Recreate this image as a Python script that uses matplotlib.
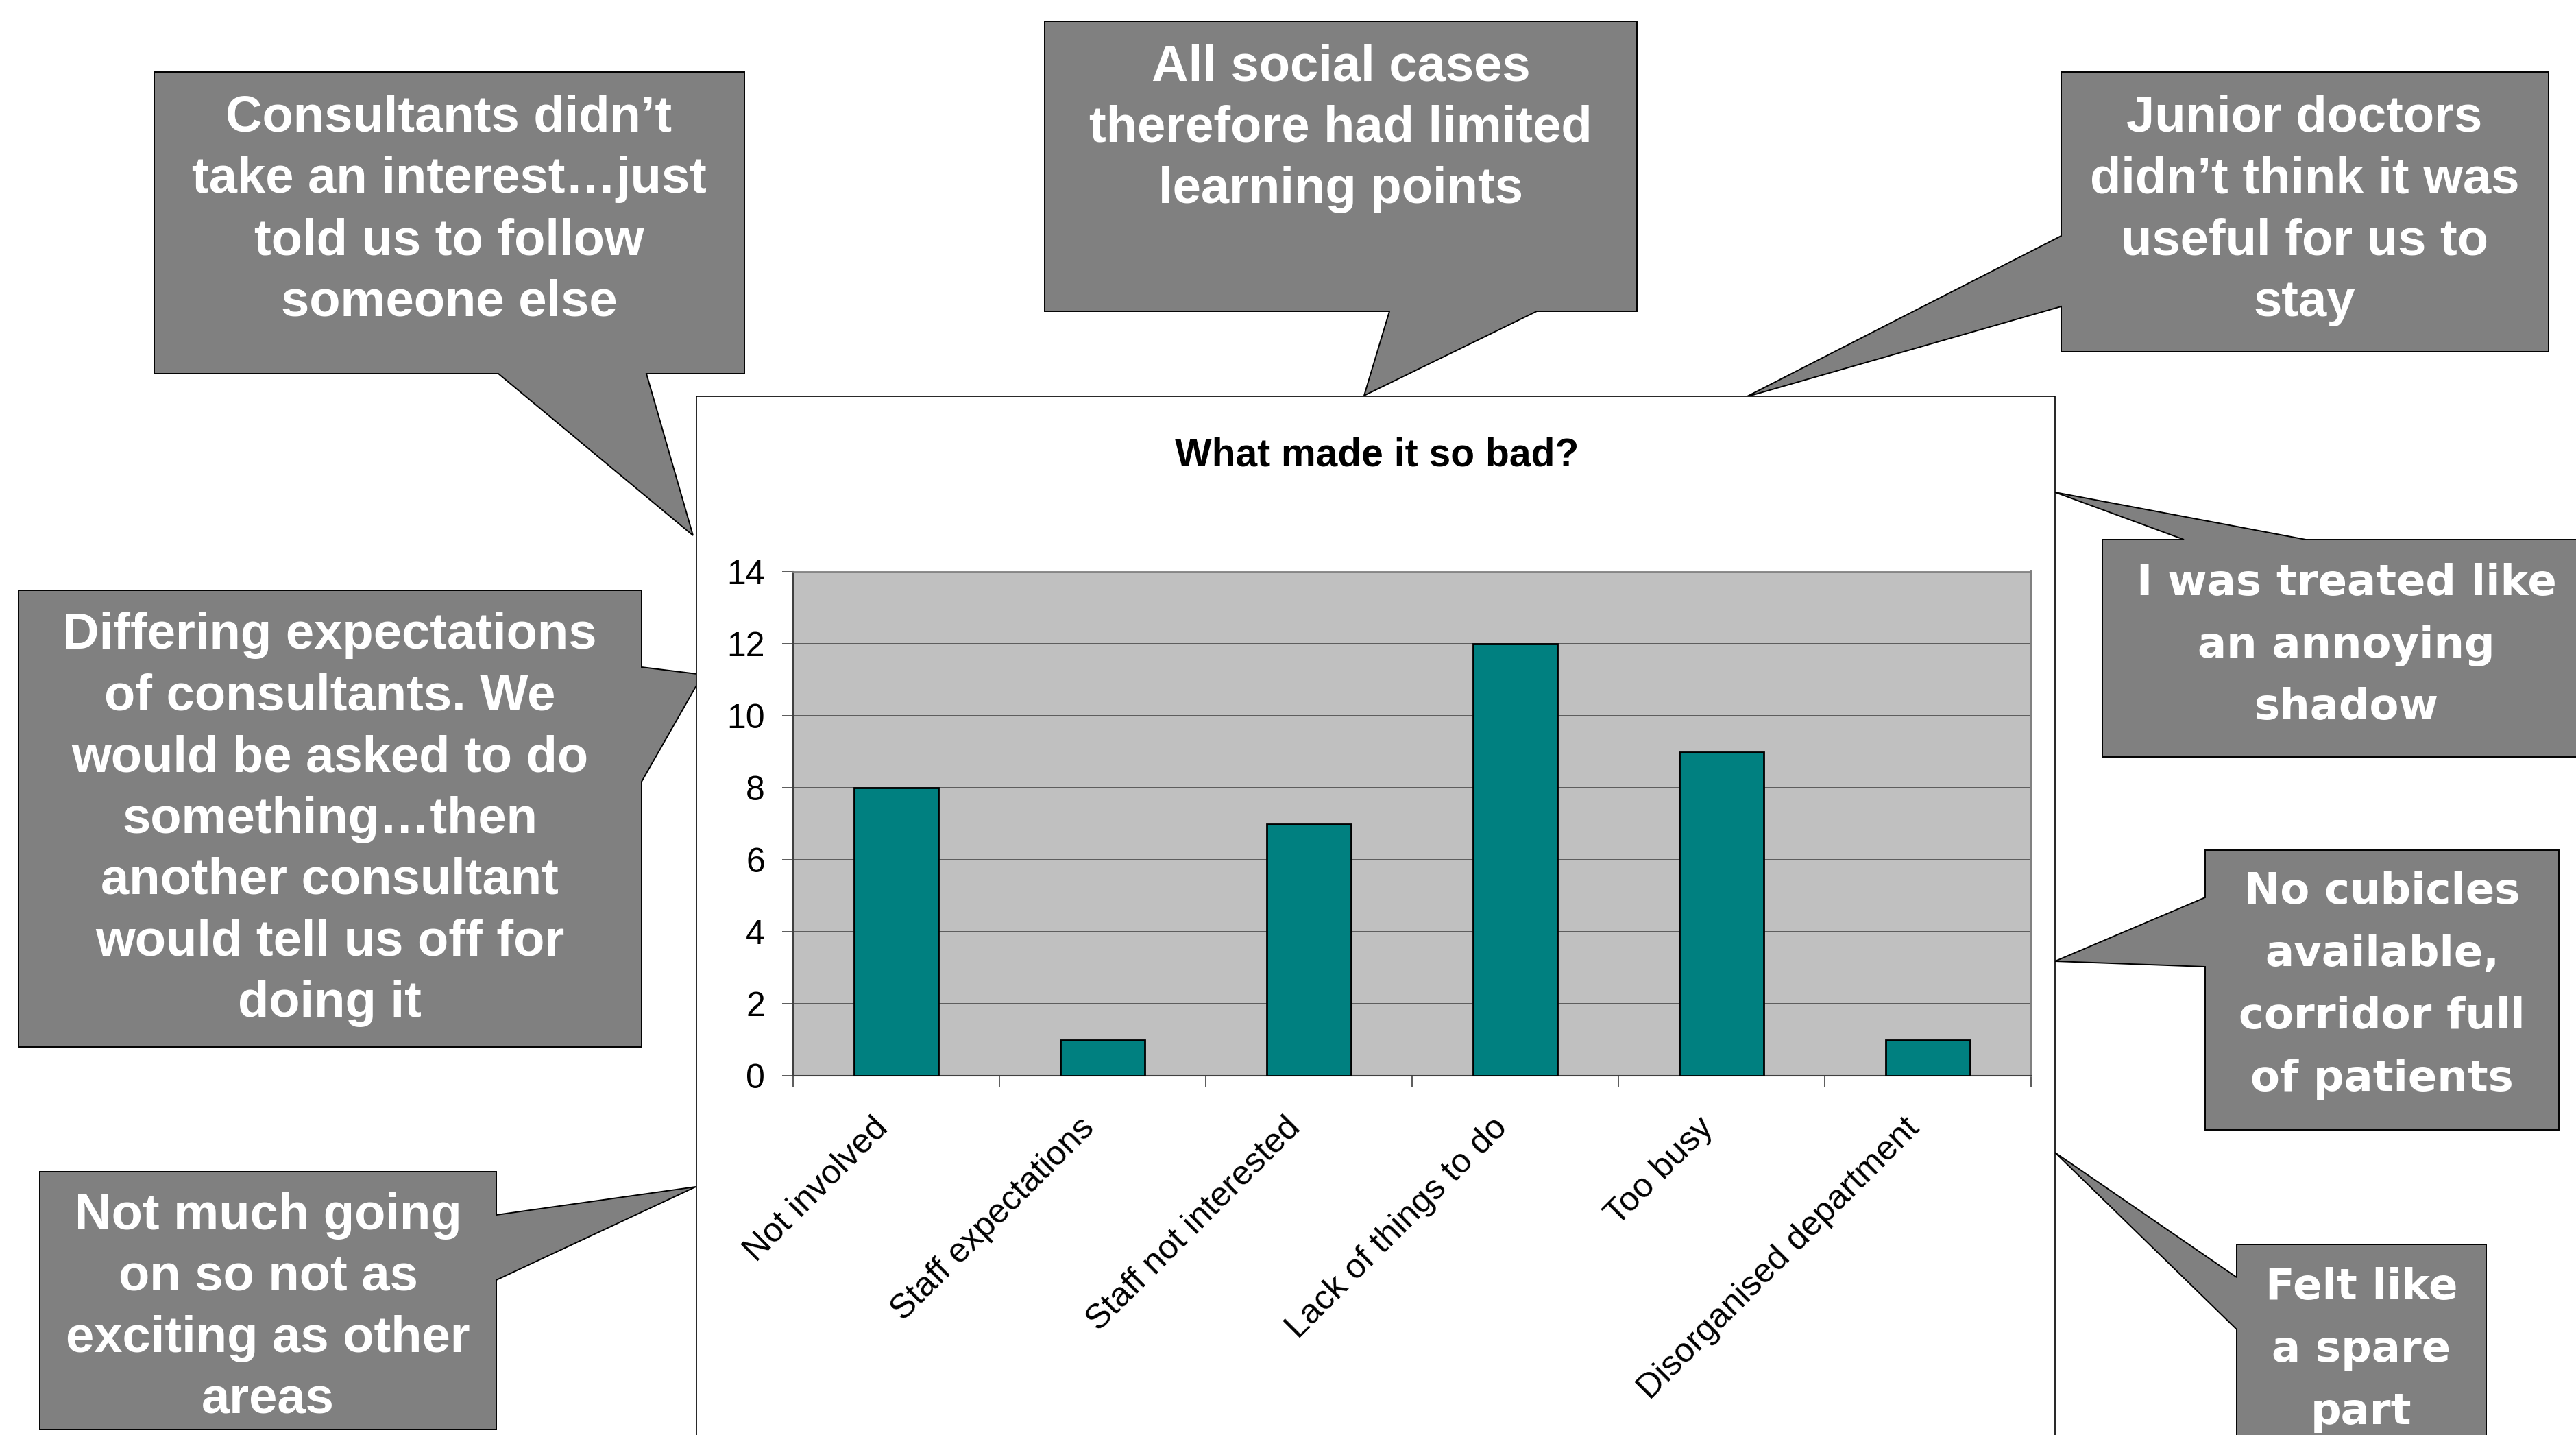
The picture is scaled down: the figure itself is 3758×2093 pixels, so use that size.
import matplotlib.pyplot as plt
from matplotlib.patches import Polygon, Rectangle
from matplotlib.transforms import ScaledTranslation

plt.rcParams['font.family'] = ['Liberation Sans', 'DejaVu Sans']

W, H = 3758, 2093

# chart data
categories = ["Not involved", "Staff expectations", "Staff not interested",
              "Lack of things to do", "Too busy", "Disorganised department"]
counts = [8, 1, 7, 12, 9, 1]
y_ticks = [0, 2, 4, 6, 8, 10, 12, 14]
chart_title = "What made it so bad?"

# quotes round the chart
quote_consultants = ["Consultants didn\u2019t", "take an interest\u2026just",
                     "told us to follow", "someone else"]
quote_social = ["All social cases", "therefore had limited", "learning points"]
quote_juniors = ["Junior doctors", "didn\u2019t think it was",
                 "useful for us to", "stay"]
quote_expect = ["Differing expectations", "of consultants. We",
                "would be asked to do", "something\u2026then",
                "another consultant", "would tell us off for", "doing it"]
quote_quiet = ["Not much going", "on so not as", "exciting as other", "areas"]
quote_shadow = ["I was treated like", "an annoying", "shadow"]
quote_cubicles = ["No cubicles", "available,", "corridor full", "of patients"]
quote_spare = ["Felt like", "a spare", "part"]

# (lines, box x0 y0 x1 y1, tail base points, tail tip, text x, first line y, line step, style)
bubbles = [
    (quote_consultants, (225, 105, 1086, 545), [(727, 545), (943, 545)], (1011, 781), 655, 166, 89.5, 'narrow'),
    (quote_social, (1524, 31, 2388, 454), [(2027, 454), (2242, 454)], (1990, 577), 1956, 91, 89.5, 'narrow'),
    (quote_juniors, (3007, 105, 3718, 513), [(3007, 344), (3007, 447)], (2547, 579), 3362, 166, 89.5, 'narrow'),
    (quote_expect, (27, 861, 936, 1527), [(936, 973), (936, 1140)], (1025, 984), 481, 920, 89.5, 'narrow'),
    (quote_quiet, (58, 1709, 724, 2085), [(724, 1772), (724, 1867)], (1015, 1731), 391, 1767, 89.5, 'narrow'),
    (quote_shadow, (3067, 787, 3775, 1104), [(3186, 787), (3364, 787)], (2998, 718), 3423, 845, 90.5, 'wide'),
    (quote_cubicles, (3217, 1240, 3733, 1648), [(3217, 1309), (3217, 1410)], (2998, 1402), 3475, 1295, 91, 'wide'),
    (quote_spare, (3263, 1815, 3627, 2200), [(3263, 1863), (3263, 1939)], (2998, 1681), 3445, 1872, 91, 'wide'),
]


def bubble_outline(box, base, tip):
    x0, y0, x1, y1 = box
    corners = [(x0, y0), (x1, y0), (x1, y1), (x0, y1)]
    (ax_, ay_), (bx_, by_) = base
    if ay_ == by_ == y0:
        side = 0
    elif ax_ == bx_ == x1:
        side = 1
    elif ay_ == by_ == y1:
        side = 2
    else:
        side = 3
    start = corners[side]
    pts = sorted(base, key=lambda p: abs(p[0] - start[0]) + abs(p[1] - start[1]))
    return corners[:side + 1] + [pts[0], tip, pts[1]] + corners[side + 1:]


fig = plt.figure(figsize=(W / 100, H / 100), dpi=100)

ov = fig.add_axes([0, 0, 1, 1])
ov.set_xlim(0, W)
ov.set_ylim(H, 0)
ov.axis('off')

for lines, box, base, tip, tx, ty, step, style in bubbles:
    ov.add_patch(Polygon(bubble_outline(box, base, tip), closed=True,
                         fc='#808080', ec='black', lw=1.4, zorder=1))
    if style == 'narrow':
        fam, size, half_cap = ['Liberation Sans'], 53.5, 26
    else:
        fam, size, half_cap = ['DejaVu Sans'], 45, 23
    for i, line in enumerate(lines):
        ov.text(tx, ty + i * step + half_cap, line, ha='center', va='baseline',
                color='white', fontsize=size, fontweight='bold', family=fam, zorder=2)

# white chart frame sits over the tails
ov.add_patch(Rectangle((1016, 578), 2998 - 1016, 2300 - 578, fc='white',
                       ec='black', lw=1.2, zorder=5))
ov.text(2009, 665, chart_title, ha='center', va='center', fontsize=41,
        fontweight='bold', color='black', zorder=6)

ax = fig.add_axes([1157 / W, 1 - 1569 / H, (2963 - 1157) / W, (1569 - 834) / H])
ax.set_facecolor('#C0C0C0')
ax.bar(range(len(categories)), counts, width=0.41, color='#008080',
       edgecolor='black', linewidth=2, zorder=3)
ax.set_xlim(-0.5, len(categories) - 0.5)
ax.set_ylim(0, 14)
ax.set_yticks(y_ticks)
ax.yaxis.grid(True, color='#404040', linewidth=1.1)
ax.set_axisbelow(True)

# category labels: rotated, ending just left of each category centre
ax.set_xticks([])
ax.set_xticks([i - 0.5 for i in range(len(categories) + 1)], minor=True)
label_trans = ax.get_xaxis_transform() + ScaledTranslation(-0.19, -0.69, fig.dpi_scale_trans)
for i, name in enumerate(categories):
    ax.text(i, 0, name, transform=label_trans, rotation=45, ha='right',
            va='center', rotation_mode='anchor', fontsize=36, clip_on=False)

ax.tick_params(axis='x', which='minor', length=11.5, width=1.2, color='#404040')
ax.tick_params(axis='y', length=11.5, width=1.2, color='#404040', pad=18,
               labelsize=36)

ax.spines['left'].set_color('#404040')
ax.spines['left'].set_linewidth(1.5)
ax.spines['bottom'].set_color('#404040')
ax.spines['bottom'].set_linewidth(1.5)
ax.spines['top'].set_color('#808080')
ax.spines['top'].set_linewidth(2)
ax.spines['right'].set_color('#808080')
ax.spines['right'].set_linewidth(2.8)

fig.savefig("out.png", dpi=100)
